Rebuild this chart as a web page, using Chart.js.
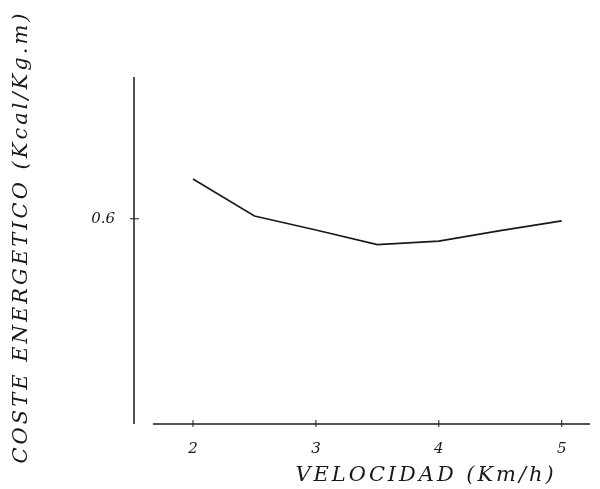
<!DOCTYPE html>
<html>
<head>
<meta charset="utf-8">
<script src="https://cdn.jsdelivr.net/npm/chart.js@4"></script>
<style>
  html, body { margin: 0; padding: 0; background: #fff; }
  #wrap { width: 600px; height: 489px; }
</style>
</head>
<body>
<div id="wrap"><canvas id="costChart" width="600" height="489"></canvas></div>
<script>
// Data
const speeds = [2, 2.5, 3, 3.5, 4, 4.5, 5];
const cost = [0.657, 0.604, 0.584, 0.563, 0.568, 0.583, 0.597];
const xTicks = [2, 3, 4, 5];
const yTicks = [0.6];
const xTitle = 'VELOCIDAD (Km/h)';
const yTitle = 'COSTE ENERGETICO (Kcal/Kg.m)';

const ink = '#1a1a1a';
const tickFont = { family: '"DejaVu Serif", serif', size: 15, style: 'italic' };

// draw the axis lines, cross ticks and spaced titles
const axesPlugin = {
  id: 'axesPlugin',
  afterDraw(chart) {
    const ctx = chart.ctx;
    const a = chart.chartArea;
    const xs = chart.scales.x, ys = chart.scales.y;
    ctx.save();
    ctx.strokeStyle = ink;
    ctx.lineWidth = 1.5;
    // y axis line
    ctx.beginPath();
    ctx.moveTo(a.left, a.top + 2);
    ctx.lineTo(a.left, a.bottom);
    ctx.stroke();
    // x axis line (starts a little right of the y axis)
    ctx.beginPath();
    ctx.moveTo(xs.getPixelForValue(1.675), a.bottom);
    ctx.lineTo(a.right, a.bottom);
    ctx.stroke();
    ctx.lineWidth = 1;
    xs.ticks.forEach(t => {
      const px = xs.getPixelForValue(t.value);
      ctx.beginPath();
      ctx.moveTo(px, a.bottom - 4);
      ctx.lineTo(px, a.bottom + 3);
      ctx.stroke();
    });
    ys.ticks.forEach(t => {
      const py = ys.getPixelForValue(t.value);
      ctx.beginPath();
      ctx.moveTo(a.left - 4, py);
      ctx.lineTo(a.left + 5, py);
      ctx.stroke();
    });

    // titles with letter spacing fitted to the reference width
    ctx.fillStyle = ink;
    ctx.font = 'italic 21px "DejaVu Serif", serif';
    ctx.textAlign = 'center';
    ctx.textBaseline = 'middle';
    const spaced = (text, target) => {
      ctx.letterSpacing = '0px';
      const w = ctx.measureText(text).width;
      const sp = Math.max(0, (target - w) / (text.length - 1));
      ctx.letterSpacing = sp.toFixed(2) + 'px';
    };
    spaced(xTitle, 258);
    ctx.fillText(xTitle, 426, 476);
    ctx.translate(22, 237);
    ctx.rotate(-Math.PI / 2);
    spaced(yTitle, 450);
    ctx.fillText(yTitle, 0, 0);
    ctx.restore();
  }
};

const ctx = document.getElementById('costChart').getContext('2d');
const costChart = new Chart(ctx, {
  type: 'line',
  data: {
    datasets: [{
      data: speeds.map((s, i) => ({ x: s, y: cost[i] })),
      borderColor: ink,
      borderWidth: 1.6,
      pointRadius: 0,
      tension: 0,
      fill: false
    }]
  },
  options: {
    responsive: false,
    animation: false,
    layout: { padding: { top: 75, right: 10, left: 0, bottom: 0 } },
    plugins: { legend: { display: false }, tooltip: { enabled: false } },
    scales: {
      x: {
        type: 'linear',
        min: 1.52,
        max: 5.23,
        afterBuildTicks: s => { s.ticks = xTicks.map(v => ({ value: v })); },
        afterFit: s => { s.height = 65; },
        grid: { display: false },
        border: { display: false },
        ticks: { color: ink, font: tickFont, padding: 8, maxRotation: 0 }
      },
      y: {
        type: 'linear',
        min: 0.306,
        max: 0.806,
        afterBuildTicks: s => { s.ticks = yTicks.map(v => ({ value: v })); },
        afterFit: s => { s.width = 134; },
        grid: { display: false },
        border: { display: false },
        ticks: { color: ink, font: tickFont, padding: 11, callback: v => v.toFixed(1) }
      }
    }
  },
  plugins: [axesPlugin]
});
</script>
</body>
</html>
